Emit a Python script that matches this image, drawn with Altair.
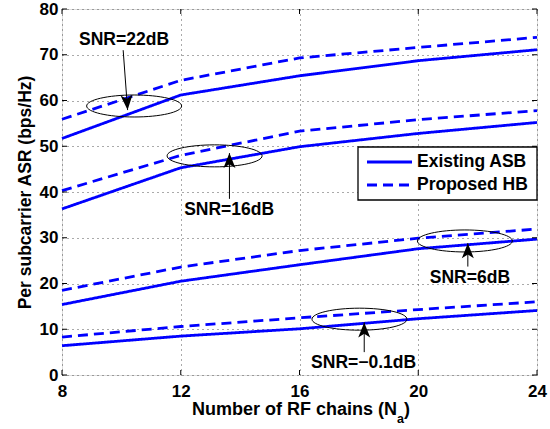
import altair as alt
import pandas as pd

# Number of RF chains
na = [8, 12, 16, 20, 24]

# Per-subcarrier ASR (bps/Hz), existing analog sub-array beamforming
asb_22 = [51.7, 61.2, 65.4, 68.7, 71.1]
asb_16 = [36.3, 45.3, 49.9, 52.8, 55.2]
asb_6 = [15.4, 20.5, 24.1, 27.6, 29.7]
asb_m01 = [6.4, 8.5, 10.1, 12.3, 14.1]

# Per-subcarrier ASR (bps/Hz), proposed hybrid beamforming
hb_22 = [55.9, 64.4, 69.3, 71.6, 73.8]
hb_16 = [40.3, 48.0, 53.3, 55.8, 57.8]
hb_6 = [18.5, 23.6, 27.2, 29.9, 31.9]
hb_m01 = [8.3, 10.6, 12.5, 14.3, 16.0]

schemes = ["Existing ASB", "Proposed HB"]
snr_names = ["SNR=22dB", "SNR=16dB", "SNR=6dB", "SNR=\u22120.1dB"]

# Annotation anchors (data units): ellipse centre, arrow tail/tip, label position
ell_x = [10.43, 13.14, 21.57, 18.02]
ell_y = [58.8, 47.9, 29.3, 12.2]
tail_x = [10.06, 13.64, 21.67, 18.18]
tail_y = [71.0, 38.5, 23.7, 5.0]
tip_x = [10.21, 13.64, 21.67, 18.18]
tip_y = [57.9, 48.5, 28.8, 11.5]
lab_x = [10.09, 13.63, 21.74, 18.16]
lab_y = [73.2, 36.1, 21.2, 2.7]
arrow_angle = [175.8, 0, 0, 0]

x_ticks = [8, 12, 16, 20, 24]
y_ticks = [0, 10, 20, 30, 40, 50, 60, 70, 80]

FONT = "Liberation Sans"
BLUE = "#0000ff"
W, H = 475, 366

rows = []
for name, series in zip(snr_names, [asb_22, asb_16, asb_6, asb_m01]):
    for n, v in zip(na, series):
        rows.append({"na": n, "asr": v, "scheme": schemes[0], "curve": schemes[0] + name})
for name, series in zip(snr_names, [hb_22, hb_16, hb_6, hb_m01]):
    for n, v in zip(na, series):
        rows.append({"na": n, "asr": v, "scheme": schemes[1], "curve": schemes[1] + name})
df = pd.DataFrame(rows)

ann = pd.DataFrame({
    "label": snr_names, "ex": ell_x, "ey": ell_y,
    "tx": tail_x, "ty": tail_y, "hx": tip_x, "hy": tip_y,
    "lx": lab_x, "ly": lab_y, "ang": arrow_angle,
})

xscale = alt.Scale(domain=[8, 24], nice=False, zero=False)
yscale = alt.Scale(domain=[0, 80], nice=False)

x_axis = alt.Axis(values=x_ticks, grid=True, gridDash=[1, 4], gridColor="#555",
                  gridWidth=1, ticks=False, domain=False, labelFont=FONT,
                  labelFontSize=17, labelFontWeight="bold", labelColor="black",
                  labelPadding=8, labelFlush=False, labelOverlap=False, title=None)
y_axis = alt.Axis(values=y_ticks, grid=True, gridDash=[1, 4], gridColor="#555",
                  gridWidth=1, ticks=False, domain=False, labelFont=FONT,
                  labelFontSize=17, labelFontWeight="bold", labelColor="black",
                  labelPadding=4, labelFlush=False, labelOverlap=False,
                  title="Per subcarrier ASR (bps/Hz)", titleFont=FONT,
                  titleFontSize=17.5, titleFontWeight="bold", titleColor="black",
                  titleAngle=270, titleAlign="center", titleBaseline="bottom",
                  titleX=-28, titleY=H / 2)

lines = alt.Chart(df).mark_line(color=BLUE, strokeWidth=2.8).encode(
    x=alt.X("na:Q", scale=xscale, axis=x_axis),
    y=alt.Y("asr:Q", scale=yscale, axis=y_axis),
    detail="curve:N",
    strokeDash=alt.StrokeDash("scheme:N", scale=alt.Scale(domain=schemes, range=[[1, 0], [10, 6]]), legend=None),
)

# inward tick marks on all four sides of the box
xt = pd.DataFrame({"v": x_ticks})
yt = pd.DataFrame({"v": y_ticks})
tick_bottom = alt.Chart(xt).mark_rule(color="black", strokeWidth=1).encode(
    x=alt.X("v:Q", scale=xscale), y=alt.value(H), y2=alt.value(H - 5))
tick_top = alt.Chart(xt).mark_rule(color="black", strokeWidth=1).encode(
    x=alt.X("v:Q", scale=xscale), y=alt.value(0), y2=alt.value(5))
tick_left = alt.Chart(yt).mark_rule(color="black", strokeWidth=1).encode(
    y=alt.Y("v:Q", scale=yscale), x=alt.value(0), x2=alt.value(5))
tick_right = alt.Chart(yt).mark_rule(color="black", strokeWidth=1).encode(
    y=alt.Y("v:Q", scale=yscale), x=alt.value(W), x2=alt.value(W - 5))

ellipse_path = "M-1,0 A1,0.2316 0 1,0 1,0 A1,0.2316 0 1,0 -1,0 Z"
ellipses = alt.Chart(ann).mark_point(shape=ellipse_path, size=9025, filled=False,
                                     color="black", strokeWidth=1, opacity=1).encode(
    x=alt.X("ex:Q", scale=xscale), y=alt.Y("ey:Q", scale=yscale))

shafts = alt.Chart(ann).mark_rule(color="black", strokeWidth=1).encode(
    x=alt.X("tx:Q", scale=xscale), y=alt.Y("ty:Q", scale=yscale),
    x2="hx:Q", y2="hy:Q")

head_path = "M0,0 L0.8,2 L0,1.5 L-0.8,2 Z"
heads = alt.Chart(ann).mark_point(shape=head_path, size=225, filled=True,
                                  color="black", opacity=1, strokeWidth=0).encode(
    x=alt.X("hx:Q", scale=xscale), y=alt.Y("hy:Q", scale=yscale),
    angle=alt.Angle("ang:Q", scale=None))

labels = alt.Chart(ann).mark_text(font=FONT, fontSize=17.5, fontWeight="bold",
                                  color="black", align="center", baseline="middle").encode(
    x=alt.X("lx:Q", scale=xscale), y=alt.Y("ly:Q", scale=yscale), text="label:N")

# x-axis title with subscript
one = pd.DataFrame({"k": [0]})
xt_main = alt.Chart(one).mark_text(text="Number of RF chains (N", font=FONT, fontSize=18,
                                   fontWeight="bold", color="black", align="right",
                                   baseline="alphabetic").encode(
    x=alt.value(335), y=alt.value(406))
xt_sub = alt.Chart(one).mark_text(text="a", font=FONT, fontSize=12.5, fontWeight="bold",
                                  color="black", align="left", baseline="alphabetic").encode(
    x=alt.value(335), y=alt.value(414))
xt_close = alt.Chart(one).mark_text(text=")", font=FONT, fontSize=18, fontWeight="bold",
                                    color="black", align="left", baseline="alphabetic").encode(
    x=alt.value(342), y=alt.value(406))

# legend box
legend_box = alt.Chart(one).mark_rect(fill="white", stroke="black", strokeWidth=1.3).encode(
    x=alt.value(296), x2=alt.value(W), y=alt.value(138), y2=alt.value(191))
legend_layers = [legend_box]
for i, (name, dash) in enumerate(zip(schemes, [[1, 0], [10, 6]])):
    yy = 153 + 23 * i
    legend_layers.append(
        alt.Chart(one).mark_rule(color=BLUE, strokeWidth=2.8, strokeDash=dash).encode(
            x=alt.value(305), x2=alt.value(350), y=alt.value(yy)))
    legend_layers.append(
        alt.Chart(one).mark_text(text=name, font=FONT, fontSize=17.5, fontWeight="bold",
                                 color="black", align="left", baseline="middle").encode(
            x=alt.value(355), y=alt.value(yy)))

chart = alt.layer(
    lines, tick_bottom, tick_top, tick_left, tick_right,
    ellipses, shafts, heads, labels, xt_main, xt_sub, xt_close, *legend_layers,
).properties(
    width=W, height=H,
    autosize=alt.AutoSizeParams(type="none"),
    padding={"left": 62, "top": 9, "right": 13, "bottom": 54},
).configure_view(stroke="black", strokeWidth=1.3).configure(background="white")

chart.save("out.html", embed_options={"renderer": "svg", "actions": False})
